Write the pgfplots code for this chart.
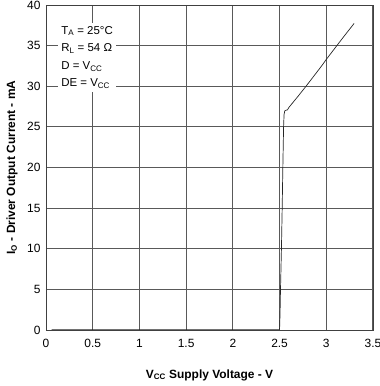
\documentclass[border=0pt]{standalone}
\usepackage{fontspec}
\setmainfont{Liberation Sans}
\usepackage{pgfplots}
\pgfplotsset{compat=1.18}
\begin{document}
\begin{tikzpicture}
\begin{axis}[
  scale only axis,
  width=327bp, height=325bp,
  xmin=0, xmax=3.5, ymin=0, ymax=40,
  xtick={0,0.5,1,1.5,2,2.5,3,3.5},
  xticklabels={0,0.5,1,1.5,2,2.5,3,3.5},
  ytick={0,5,10,15,20,25,30,35,40},
  major tick length=0pt,
  grid=major,
  grid style={black!65, line width=1pt},
  axis line style={black!75, line width=0.9pt},
  /pgf/number format/assume math mode=true,
  tick label style={font=\fontsize{12}{14}\selectfont},
  xticklabel style={yshift=-6bp},
  yticklabel style={xshift=-2bp},
  xlabel={\textbf{V\textsubscript{CC} Supply Voltage - V}},
  ylabel={\textbf{I\textsubscript{O} - Driver Output Current - mA}},
  label style={font=\fontsize{12}{14}\selectfont},
  xlabel style={at={(axis description cs:0.5,0)}, anchor=base, yshift=-48bp},
  ylabel style={at={(axis description cs:0,0.5)}, anchor=center, yshift=34bp},
]
\addplot[black!85, line width=0.7pt] coordinates {
(0.06,0.08) (1.0,0.08) (2.0,0.08) (2.5,0.08) (2.505,2) (2.51,5) (2.52,10) (2.528,15) (2.535,20) (2.543,25) (2.548,26.5) (2.555,26.95) (2.57,27.05) (2.585,27.1) (2.6,27.4) (2.65,28.1) (2.7,28.8) (2.783,30.0) (2.85,31.0) (2.95,32.5) (3.0,33.3) (3.113,35.0) (3.2,36.3) (3.298,37.73)
};
\node[fill=white, anchor=north west, align=left, inner sep=3pt,
      font=\fontsize{11.5}{17.7}\selectfont]
  at (axis cs:0.13,37.8)
  {T\textsubscript{A} = 25°C\\R\textsubscript{L} = 54 Ω\\D = V\textsubscript{CC}\\DE = V\textsubscript{CC}};
\end{axis}
\pgfresetboundingbox
\path (current axis.south west) ++(-46bp,-56bp) rectangle ++(380bp,386bp);
\end{tikzpicture}
\end{document}
